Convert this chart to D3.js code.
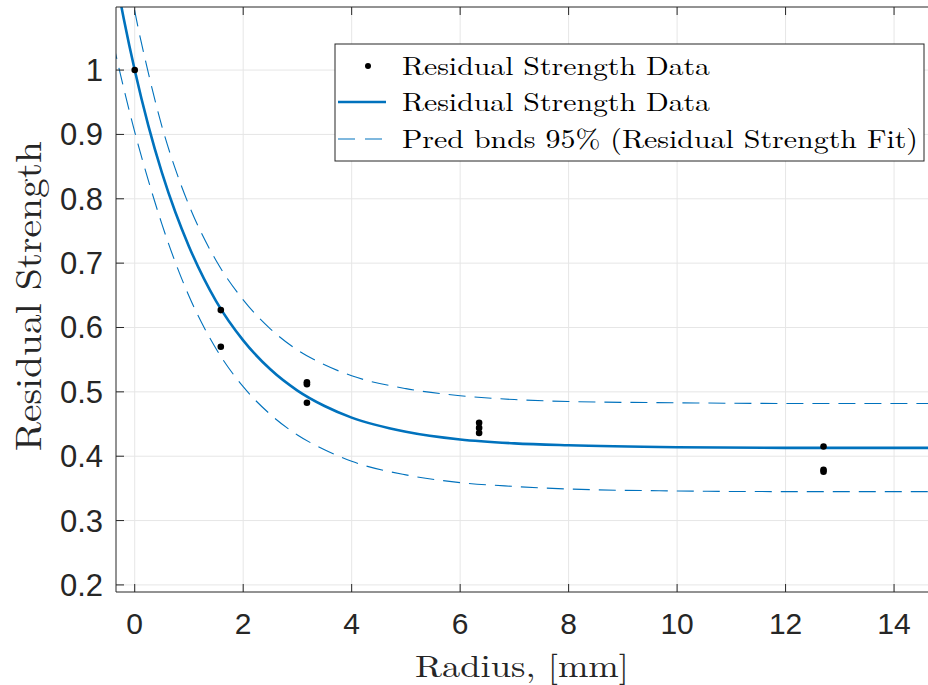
<!DOCTYPE html>
<html>
<head>
<meta charset="utf-8">
<script src="https://cdn.jsdelivr.net/npm/d3@7"></script>
<style>
  html, body { margin: 0; padding: 0; background: #fff; }
  svg { display: block; }
</style>
</head>
<body>
<svg id="chart" width="928" height="685"></svg>
<script>
// ---- data ----
const radius   = [0, 1.5875, 1.5875, 3.175, 3.175, 3.175, 6.35, 6.35, 6.35, 12.7, 12.7, 12.7];
const strength = [1.0, 0.627, 0.570, 0.515, 0.512, 0.483, 0.452, 0.444, 0.436, 0.415, 0.379, 0.376];

const fitX     = [-0.4, -0.2, 0, 0.25, 0.5, 0.75, 1, 1.5, 2, 2.5, 3, 3.5, 4, 5, 6, 7, 8, 10, 12, 14.7];
const fitY     = [1.168, 1.079, 1.000, 0.914, 0.841, 0.779, 0.726, 0.641, 0.580, 0.535, 0.502, 0.478, 0.460, 0.438, 0.426, 0.420, 0.417, 0.414, 0.413, 0.413];
const upperY   = [1.293, 1.187, 1.092, 0.996, 0.913, 0.846, 0.790, 0.704, 0.643, 0.598, 0.565, 0.542, 0.525, 0.505, 0.494, 0.488, 0.485, 0.483, 0.482, 0.482];
const lowerY   = [1.043, 0.971, 0.904, 0.829, 0.761, 0.701, 0.649, 0.567, 0.508, 0.465, 0.433, 0.410, 0.392, 0.371, 0.359, 0.353, 0.349, 0.346, 0.345, 0.345];

const xTicks = [0, 2, 4, 6, 8, 10, 12, 14];
const yTicks = [0.2, 0.3, 0.4, 0.5, 0.6, 0.7, 0.8, 0.9, 1];
const xDomain = [-0.345, 14.626];
const yDomain = [0.189, 1.098];

const legendLabels = ["Residual Strength Data", "Residual Strength Data", "Pred bnds 95% (Residual Strength Fit)"];
const xLabel = "Radius, [mm]";
const yLabel = "Residual Strength";

(function () {
// ---- layout ----
const pLeft = 116, pRight = 928, pTop = 7, pBottom = 592;
const blue = "#0072BD";
const axisColor = "#262626";
const gridColor = "#e6e6e6";

const svg = d3.select("#chart");
const x = d3.scaleLinear().domain(xDomain).range([pLeft, pRight]);
const y = d3.scaleLinear().domain(yDomain).range([pBottom, pTop]);

svg.append("defs").append("clipPath").attr("id", "clip")
  .append("rect").attr("x", pLeft).attr("y", pTop).attr("width", pRight - pLeft).attr("height", pBottom - pTop);

// grid
const grid = svg.append("g");
grid.selectAll(".gx").data(xTicks).join("line")
  .attr("x1", d => x(d)).attr("x2", d => x(d)).attr("y1", pTop).attr("y2", pBottom)
  .attr("stroke", gridColor).attr("stroke-width", 1);
grid.selectAll(".gy").data(yTicks).join("line")
  .attr("x1", pLeft).attr("x2", pRight).attr("y1", d => y(d)).attr("y2", d => y(d))
  .attr("stroke", gridColor).attr("stroke-width", 1);

// curves
const plot = svg.append("g").attr("clip-path", "url(#clip)");
const line = d3.line().x(d => x(d[0])).y(d => y(d[1])).curve(d3.curveMonotoneX);
plot.append("path").datum(fitX.map((v, i) => [v, upperY[i]]))
  .attr("d", line).attr("fill", "none").attr("stroke", blue).attr("stroke-width", 1.1)
  .attr("stroke-dasharray", "17,9");
plot.append("path").datum(fitX.map((v, i) => [v, lowerY[i]]))
  .attr("d", line).attr("fill", "none").attr("stroke", blue).attr("stroke-width", 1.1)
  .attr("stroke-dasharray", "17,9");
plot.append("path").datum(fitX.map((v, i) => [v, fitY[i]]))
  .attr("d", line).attr("fill", "none").attr("stroke", blue).attr("stroke-width", 2.6);

// points
plot.selectAll("circle.pt").data(radius.map((r, i) => [r, strength[i]])).join("circle")
  .attr("class", "pt").attr("cx", d => x(d[0])).attr("cy", d => y(d[1])).attr("r", 3.3).attr("fill", "#000");

// axes
const ax = svg.append("g");
const tickLen = 8;
ax.selectAll(".tb").data(xTicks).join("line")
  .attr("x1", d => x(d)).attr("x2", d => x(d)).attr("y1", pBottom).attr("y2", pBottom - tickLen)
  .attr("stroke", axisColor);
ax.selectAll(".tt").data(xTicks).join("line")
  .attr("x1", d => x(d)).attr("x2", d => x(d)).attr("y1", pTop).attr("y2", pTop + tickLen)
  .attr("stroke", axisColor);
ax.selectAll(".tl").data(yTicks).join("line")
  .attr("x1", pLeft).attr("x2", pLeft + tickLen).attr("y1", d => y(d)).attr("y2", d => y(d))
  .attr("stroke", axisColor);
ax.append("line").attr("x1", pLeft).attr("x2", pRight).attr("y1", pBottom).attr("y2", pBottom).attr("stroke", axisColor);
ax.append("line").attr("x1", pLeft).attr("x2", pRight).attr("y1", pTop).attr("y2", pTop).attr("stroke", axisColor);
ax.append("line").attr("x1", pLeft).attr("x2", pLeft).attr("y1", pTop).attr("y2", pBottom).attr("stroke", axisColor);

// tick labels
const sans = "Helvetica, 'Liberation Sans', Arial, sans-serif";
ax.selectAll(".xl").data(xTicks).join("text")
  .attr("x", d => x(d)).attr("y", 634).attr("text-anchor", "middle")
  .attr("font-family", sans).attr("font-size", 30).attr("fill", axisColor)
  .text(d => d3.format("d")(d));
ax.selectAll(".yl").data(yTicks).join("text")
  .attr("x", 103).attr("y", d => y(d) + 11).attr("text-anchor", "end")
  .attr("font-family", sans).attr("font-size", 31).attr("fill", axisColor)
  .text(d => d === 1 ? "1" : d3.format(".1f")(d));

// axis labels
const serif = "'Latin Modern Roman', 'CMU Serif', 'Liberation Serif', 'Times New Roman', serif";
svg.append("text").attr("x", 522).attr("y", 677).attr("text-anchor", "middle")
  .attr("font-family", serif).attr("font-size", 31).attr("fill", axisColor)
  .attr("textLength", 214).attr("lengthAdjust", "spacingAndGlyphs")
  .text(xLabel);
svg.append("text").attr("transform", "translate(41,296) rotate(-90)").attr("text-anchor", "middle")
  .attr("font-family", serif).attr("font-size", 36).attr("fill", axisColor)
  .attr("textLength", 310).attr("lengthAdjust", "spacingAndGlyphs")
  .text(yLabel);

// legend
const lg = svg.append("g");
lg.append("rect").attr("x", 335).attr("y", 44).attr("width", 589).attr("height", 117)
  .attr("fill", "#fff").attr("stroke", axisColor).attr("stroke-width", 1);
const rowY = [66, 102, 139];
lg.append("circle").attr("cx", 368).attr("cy", rowY[0]).attr("r", 3).attr("fill", "#000");
lg.append("line").attr("x1", 338).attr("x2", 386).attr("y1", rowY[1]).attr("y2", rowY[1])
  .attr("stroke", blue).attr("stroke-width", 2.6);
lg.append("line").attr("x1", 338).attr("x2", 386).attr("y1", rowY[2]).attr("y2", rowY[2])
  .attr("stroke", blue).attr("stroke-width", 1.1).attr("stroke-dasharray", "17,10");
const legLens = [308, 308, 516];
lg.selectAll("text.leg").data(legendLabels).join("text")
  .attr("class", "leg").attr("x", 402).attr("y", (d, i) => rowY[i] + 9)
  .attr("font-family", serif).attr("font-size", 26).attr("fill", "#000")
  .attr("textLength", (d, i) => legLens[i]).attr("lengthAdjust", "spacingAndGlyphs")
  .text(d => d);
})();
</script>
</body>
</html>
